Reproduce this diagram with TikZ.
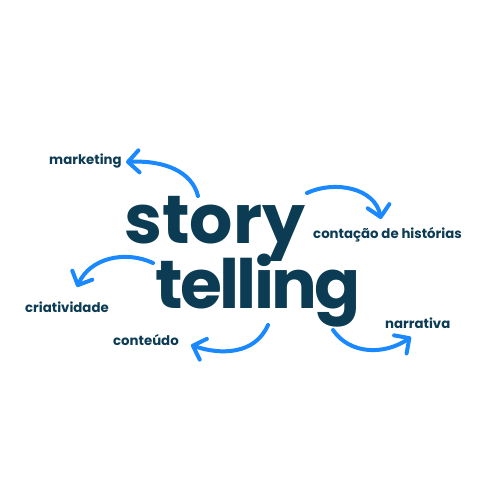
\documentclass[tikz,border=0pt]{standalone}
\usepackage{fontspec}
\setmainfont{Poppins}
\newfontfamily\tightpop{Poppins}[LetterSpace=-4]
\usepackage{xcolor}
\usepackage{tikz}
\usetikzlibrary{arrows.meta}

\definecolor{navy}{RGB}{12,59,84}
\definecolor{arrowblue}{RGB}{26,136,255}

\tikzset{
  lbl/.style={anchor=base west,inner sep=0pt,text=navy,font=\bfseries\fontsize{13.3}{15}\selectfont},
  big/.style={anchor=base west,inner sep=0pt,text=navy,font=\bfseries\fontsize{68}{70}\selectfont},
  bigtight/.style={big,font=\tightpop\bfseries\fontsize{68}{70}\selectfont},
  curvy/.style={draw=arrowblue,line width=4pt,line cap=round,line join=round,
    -{Straight Barb[length=11pt,width=22pt,round]}}
}

\begin{document}
\begin{tikzpicture}[x=1pt,y=1pt,yscale=-1,xscale=1]
\useasboundingbox (0,0) rectangle (500,500);

% Text Node
\node [big] (story) at (124,243) {story};
% Text Node
\node [bigtight] (telling) at (155,308) {telling};
% Text Node
\node [lbl] (mkt) at (49,164) {marketing};
% Text Node
\node [lbl] (hist) at (313,238) {contação de histórias};
% Text Node
\node [lbl] (cria) at (25,312) {criatividade};
% Text Node
\node [lbl] (cont) at (113,345) {conteúdo};
% Text Node
\node [lbl] (narr) at (385,328) {narrativa};

% arrow ends
\coordinate (mktS) at (198,196);
\coordinate (mktE) at (126,162);
\coordinate (histS) at (307,193);
\coordinate (histE) at (381,219);
\coordinate (criaS) at (153,263);
\coordinate (criaE) at (77,287);
\coordinate (contS) at (268,325);
\coordinate (contE) at (191,345);
\coordinate (narrS) at (333,330);
\coordinate (narrE) at (411,337);

%Curve Lines
\draw [curvy] (mktS) .. controls (192,172) and (165,160) .. (mktE);
%Curve Lines
\draw [curvy] (histS) .. controls (335,180) and (375,188) .. (histE);
%Curve Lines
\draw [curvy] (criaS) .. controls (125,250) and (90,258) .. (criaE);
%Curve Lines
\draw [curvy] (contS) .. controls (255,355) and (220,355) .. (contE);
%Curve Lines
\draw [curvy] (narrS) .. controls (350,355) and (385,355) .. (narrE);

\end{tikzpicture}
\end{document}
